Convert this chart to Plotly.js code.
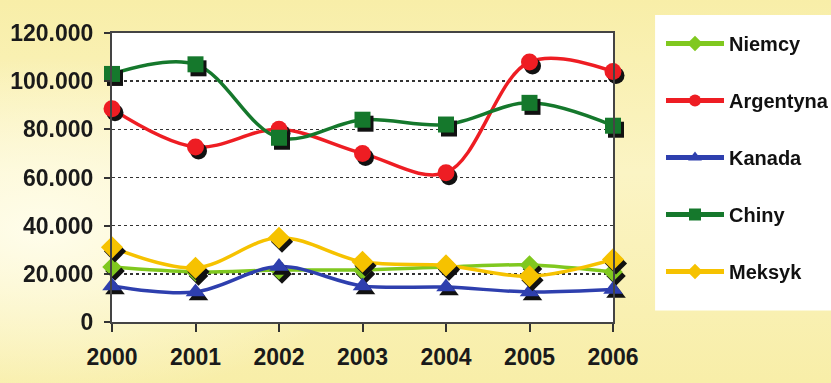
<!DOCTYPE html>
<html>
<head>
<meta charset="utf-8">
<script src="https://cdn.plot.ly/plotly-3.0.1.min.js"></script>
<style>
html,body{margin:0;padding:0;}
body{width:831px;height:383px;overflow:hidden;
background: radial-gradient(ellipse 55% 60% at 5% 60%, #fffdeb 0%, rgba(255,253,235,0) 75%), linear-gradient(180deg,#f8eea8 0%,#fbf4c4 45%,#f8eea8 100%);}
#chart{width:831px;height:383px;}
.scatterlayer .points{filter: drop-shadow(3px 4px 0px #111);}
</style>
</head>
<body>
<div id="chart"></div>
<script>
const years = ['2000','2001','2002','2003','2004','2005','2006'];
const niemcy    = [22800, 20800, 21600, 21600, 22800, 23700, 20800];
const argentyna = [88500, 72700, 80000, 70000, 62000, 108000, 104000];
const kanada    = [15000, 12500, 23000, 15000, 14500, 12500, 13500];
const chiny     = [103000, 107000, 76500, 84000, 82000, 91000, 81500];
const meksyk    = [31000, 22500, 35000, 25000, 23500, 19000, 26000];
const yTicks = [0, 20000, 40000, 60000, 80000, 100000, 120000];
const yTickText = ['0','20.000','40.000','60.000','80.000','100.000','120.000'];

const series = [
  {name:'Niemcy', y:niemcy, color:'#80c81f', symbol:'diamond', size:15},
  {name:'Argentyna', y:argentyna, color:'#ee1d23', symbol:'circle', size:17},
  {name:'Kanada', y:kanada, color:'#2e3fae', symbol:'triangle-up', size:17},
  {name:'Chiny', y:chiny, color:'#15782c', symbol:'square', size:16},
  {name:'Meksyk', y:meksyk, color:'#f6c200', symbol:'diamond', size:17}
];
const traces = series.map((s,i)=>({
  type:'scatter', mode:'lines+markers', name:s.name, x:years, y:s.y,
  legendgroup:'g'+i, cliponaxis:false,
  line:{color:s.color, width:3.5, shape:'spline', smoothing:1},
  marker:{color:s.color, symbol:s.symbol, size:s.size, line:{width:0}}
}));

const tf = {family:'Liberation Sans, Arial, sans-serif', size:23, color:'#1a1a1a', weight:'bold'};
const layout = {
  width:831, height:383,
  margin:{l:112, r:218, t:33, b:61, autoexpand:false},
  paper_bgcolor:'rgba(0,0,0,0)',
  plot_bgcolor:'#ffffff',
  showlegend:true,
  legend:{xref:'container', yref:'container', x:661/831, xanchor:'left', y:1-24/383, yanchor:'top', bgcolor:'rgba(0,0,0,0)',
    font:{family:'Liberation Sans, Arial, sans-serif', size:20, color:'#111', weight:'bold'},
    tracegroupgap:28, itemwidth:58, itemsizing:'constant', maxheight:400},
  xaxis:{type:'category', range:[0,6], showgrid:false, zeroline:false,
    showline:true, linecolor:'#444', linewidth:2, mirror:true,
    ticks:'outside', ticklen:8, tickwidth:2, tickcolor:'#333', ticklabelstandoff:5,
    tickfont:tf},
  yaxis:{range:[0,120000], tickvals:yTicks, ticktext:yTickText,
    showgrid:true, gridcolor:'#333', griddash:'dot', gridwidth:1.5, zeroline:false,
    showline:true, linecolor:'#444', linewidth:2, mirror:true,
    ticks:'outside', ticklen:6, tickwidth:2, tickcolor:'#333', ticklabelstandoff:6,
    tickfont:tf},
  shapes:[{type:'rect', xref:'paper', yref:'paper', x0:1.084, x1:1.44, y0:0.04, y1:1.062,
    fillcolor:'#ffffff', line:{width:0}, layer:'below'}]
};
Plotly.newPlot('chart', traces, layout, {staticPlot:true, displayModeBar:false});
</script>
</body>
</html>
